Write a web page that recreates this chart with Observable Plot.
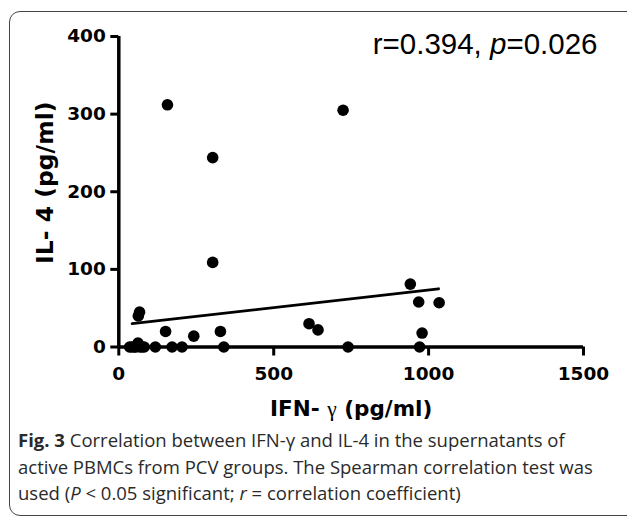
<!DOCTYPE html>
<html>
<head>
<meta charset="utf-8">
<script src="https://cdn.jsdelivr.net/npm/d3@7"></script>
<script src="https://cdn.jsdelivr.net/npm/@observablehq/plot@0.6"></script>
<style>
  html, body { margin: 0; padding: 0; background: #fff; }
  #wrap { position: relative; width: 627px; height: 520px; overflow: hidden; background: #fff; }
  #frame { position: absolute; left: 9px; top: 11px; width: 660px; height: 505px; border: 1.5px solid #444; border-radius: 11px; box-sizing: border-box; }
  #chart { position: absolute; left: 0; top: 0; }
  #caption { position: absolute; left: 0; top: 0; }
</style>
</head>
<body>
<div id="wrap">
  <div id="frame"></div>
  <div id="chart"></div>
  <svg id="caption" width="627" height="520"></svg>
</div>
<script>
// ---- data ----
const ifnGamma = [157, 724, 303, 303, 941, 968, 1034, 979, 971, 740, 614, 643, 328, 339, 242, 151, 63, 67, 62, 35, 42, 50, 55, 68, 75, 82, 118, 172, 204];
const il4      = [312, 305, 244, 109, 81, 58, 57, 18, 0, 0, 30, 22, 20, 0, 14, 20, 40, 45, 5, 0, 0, 0, 0, 0, 0, 0, 0, 0, 0];
const fitX = [43, 1032];
const fitY = [30, 75];
const xTicks = [0, 500, 1000, 1500];
const yTicks = [0, 100, 200, 300, 400];
const xTitle = "IFN- γ (pg/ml)";
const yTitle = "IL- 4 (pg/ml)";
const statText = "r=0.394, p=0.026";
const captionLines = [
  [["b", "Fig. 3"], ["n", " Correlation between IFN-γ and IL-4 in the supernatants of"]],
  [["n", "active PBMCs from PCV groups. The Spearman correlation test was"]],
  [["n", "used ("], ["i", "P"], ["n", " < 0.05 significant; "], ["i", "r"], ["n", " = correlation coefficient)"]]
];

const points = ifnGamma.map((x, i) => ({x, y: il4[i]}));
const fit = fitX.map((x, i) => ({x, y: fitY[i]}));

const tickFont = "DejaVu Sans, Liberation Sans, Arial, sans-serif";

const plot = Plot.plot({
  width: 627,
  height: 400,
  marginLeft: 118.3,
  marginRight: 44,
  marginTop: 36,
  marginBottom: 53.5,
  style: {background: "transparent", color: "#000", overflow: "visible"},
  x: {domain: [0, 1500], label: null},
  y: {domain: [0, 400], label: null},
  marks: [
    Plot.axisX({ticks: xTicks, tickFormat: d3.format("d"), tickSize: 9, tickPadding: 11, strokeWidth: 3, fontSize: 18.5, fontWeight: "bold", fontFamily: tickFont, label: null}),
    Plot.axisY({ticks: yTicks, tickFormat: d3.format("d"), tickSize: 8, tickPadding: 5, strokeWidth: 3, fontSize: 18.5, fontWeight: "bold", fontFamily: tickFont, label: null}),
    Plot.ruleX([0], {strokeWidth: 3.5}),
    Plot.ruleY([0], {strokeWidth: 3.5}),
    Plot.line(fit, {x: "x", y: "y", strokeWidth: 2.8}),
    Plot.dot(points, {x: "x", y: "y", r: 5.8, fill: "#000", stroke: "none"}),
    Plot.text([xTitle], {text: d => d, frameAnchor: "bottom", dy: 69, lineAnchor: "bottom", textAnchor: "middle", fontSize: 21.5, fontWeight: "bold", fontFamily: tickFont}),
    Plot.text([yTitle], {text: d => d, frameAnchor: "left", dx: -66, dy: -9, rotate: -90, lineAnchor: "bottom", textAnchor: "middle", fontSize: 23.5, fontWeight: "bold", fontFamily: tickFont}),
    Plot.text([statText], {text: d => d, frameAnchor: "top-right", dx: 14, dy: 17, lineAnchor: "bottom", textAnchor: "end", fontSize: 29.5, fontFamily: "Liberation Sans, Arial, sans-serif"})
  ]
});
document.getElementById("chart").appendChild(plot);

// rich text: serif gamma, italic p
d3.select(plot).selectAll("text").each(function() {
  const t = this.textContent;
  if (t === xTitle) {
    const sel = d3.select(this).select("tspan").empty() ? d3.select(this) : d3.select(this).select("tspan");
    sel.text(null);
    sel.append("tspan").text("IFN- ");
    sel.append("tspan").attr("font-family", "Liberation Serif, serif").attr("font-weight", "normal").text("γ");
    sel.append("tspan").text(" (pg/ml)");
  } else if (t === statText) {
    const sel = d3.select(this).select("tspan").empty() ? d3.select(this) : d3.select(this).select("tspan");
    sel.text(null);
    sel.append("tspan").text("r=0.394, ");
    sel.append("tspan").attr("font-style", "italic").text("p");
    sel.append("tspan").text("=0.026");
  }
});

// caption
const cap = d3.select("#caption");
const baselines = [447, 474, 500];
captionLines.forEach((parts, i) => {
  const t = cap.append("text")
    .attr("x", 18).attr("y", baselines[i])
    .attr("font-family", "Open Sans, Noto Sans, sans-serif")
    .attr("font-size", 18.5)
    .attr("fill", "#2a2a2a");
  parts.forEach(([k, s]) => {
    const sp = t.append("tspan").text(s);
    if (k === "b") sp.attr("font-weight", "bold");
    if (k === "i") sp.attr("font-style", "italic");
  });
});
</script>
</body>
</html>
